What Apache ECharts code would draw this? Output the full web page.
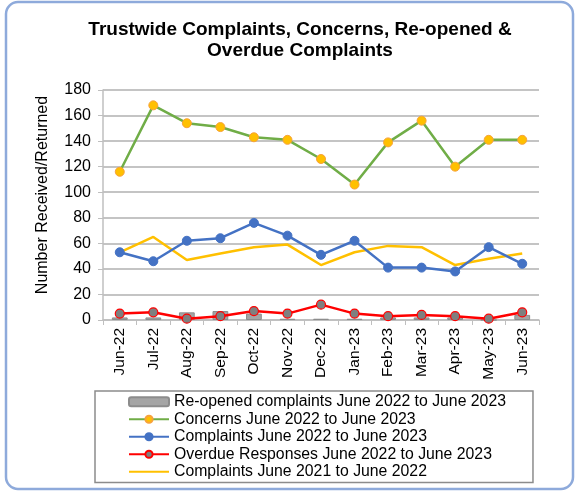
<!DOCTYPE html>
<html>
<head>
<meta charset="utf-8">
<script src="https://cdn.jsdelivr.net/npm/echarts@6/dist/echarts.min.js"></script>
<style>
  html, body { margin: 0; padding: 0; background: #ffffff; }
  #chart { width: 578px; height: 492px; }
</style>
</head>
<body>
<div id="chart"></div>
<script>
// Months reported
const months = ['Jun-22','Jul-22','Aug-22','Sep-22','Oct-22','Nov-22','Dec-22',
                'Jan-23','Feb-23','Mar-23','Apr-23','May-23','Jun-23'];

// Monthly counts
const reopened   = [2, 2, 6, 7, 5, 1, 1, 1, 2, 2, 2, 0, 4];
const concerns   = [116, 168, 154, 151, 143, 141, 126, 106, 139, 156, 120, 141, 141];
const complaints = [53, 46, 62, 64, 76, 66, 51, 62, 41, 41, 38, 57, 44];
const overdue    = [5, 6, 1, 3, 7, 5, 12, 5, 3, 4, 3, 1, 6];
const complaintsPrev = [53, 65, 47, 52, 57, 59, 43, 53, 58, 57, 43, 48, 52];

// Value axis ticks
const yMin = 0, yMax = 180, yStep = 20;

const FONT = '"Liberation Sans", Arial, sans-serif';

const chart = echarts.init(document.getElementById('chart'), null, { renderer: 'canvas' });

chart.setOption({
  animation: false,
  backgroundColor: '#ffffff',
  textStyle: { fontFamily: FONT, color: '#000' },
  graphic: [
    {
      type: 'rect',
      shape: { x: 6, y: 2, width: 567, height: 487, r: 12 },
      style: { fill: 'none', stroke: '#8eaadb', lineWidth: 2.5 },
      silent: true, z: -1
    }
  ],
  title: {
    text: 'Trustwide Complaints, Concerns, Re-opened &\nOverdue Complaints',
    left: 295, top: 14, textAlign: 'center',
    textStyle: { fontFamily: FONT, fontSize: 19, fontWeight: 'bold', color: '#000', lineHeight: 21 }
  },
  grid: { left: 103, right: 39, top: 90, bottom: 172, containLabel: false },
  legend: {
    orient: 'vertical',
    left: 95, top: 391,
    padding: [2, 27, 2, 33],
    borderColor: '#8c8c8c', borderWidth: 1.5,
    itemWidth: 40, itemHeight: 9, itemGap: 0,
    textStyle: { fontFamily: FONT, fontSize: 15.8, color: '#000', lineHeight: 17.5 },
    data: [
      { name: 'Re-opened complaints June 2022 to June 2023' },
      { name: 'Concerns June 2022 to June 2023' },
      { name: 'Complaints June 2022 to June 2023' },
      { name: 'Overdue Responses June 2022 to June 2023' },
      { name: 'Complaints June 2021 to June 2022',
        itemStyle: { color: 'rgba(0,0,0,0)', borderWidth: 0 } }
    ]
  },
  xAxis: {
    type: 'category',
    data: months,
    boundaryGap: true,
    axisLine: { show: true, lineStyle: { color: '#bfbfbf', width: 1.5 } },
    axisTick: { show: true, alignWithLabel: false, length: 5, lineStyle: { color: '#bfbfbf' } },
    axisLabel: { rotate: 90, fontSize: 15.5, color: '#000', fontFamily: FONT, margin: 8 }
  },
  yAxis: {
    type: 'value',
    min: yMin, max: yMax, interval: yStep,
    name: 'Number Received/Returned',
    nameLocation: 'middle', nameGap: 52, nameRotate: 90,
    nameTextStyle: { fontSize: 16, color: '#000', fontFamily: FONT, padding: [0, 0, 0, 20] },
    axisLine: { show: true, lineStyle: { color: '#bfbfbf', width: 1.5 } },
    axisTick: { show: true, length: 5, lineStyle: { color: '#bfbfbf' } },
    axisLabel: { fontSize: 16, color: '#000', fontFamily: FONT, margin: 12 },
    splitLine: { show: true, lineStyle: { color: '#b0b0b0', width: 1.5 } }
  },
  series: [
    {
      name: 'Re-opened complaints June 2022 to June 2023',
      type: 'bar',
      data: reopened,
      barWidth: '47%',
      itemStyle: { color: '#a5a5a5', borderColor: '#8c8c8c', borderWidth: 1 },
      z: 1
    },
    {
      name: 'Concerns June 2022 to June 2023',
      type: 'line',
      data: concerns,
      symbol: 'circle', symbolSize: 9,
      lineStyle: { color: '#70ad47', width: 2.5 },
      itemStyle: { color: '#ffc000', borderColor: '#f7a23b', borderWidth: 1 },
      z: 3
    },
    {
      name: 'Complaints June 2022 to June 2023',
      type: 'line',
      data: complaints,
      symbol: 'circle', symbolSize: 9,
      lineStyle: { color: '#4472c4', width: 2.5 },
      itemStyle: { color: '#4472c4', borderColor: '#4472c4', borderWidth: 1 },
      z: 4
    },
    {
      name: 'Overdue Responses June 2022 to June 2023',
      type: 'line',
      data: overdue,
      symbol: 'circle', symbolSize: 9,
      lineStyle: { color: '#ff0000', width: 2.5 },
      itemStyle: { color: '#7f7f7f', borderColor: '#ff0000', borderWidth: 1.2 },
      z: 5
    },
    {
      name: 'Complaints June 2021 to June 2022',
      type: 'line',
      data: complaintsPrev,
      symbol: 'none', showSymbol: false,
      lineStyle: { color: '#ffc000', width: 2.5 },
      itemStyle: { color: '#ffc000' },
      z: 2
    }
  ]
});
</script>
</body>
</html>
